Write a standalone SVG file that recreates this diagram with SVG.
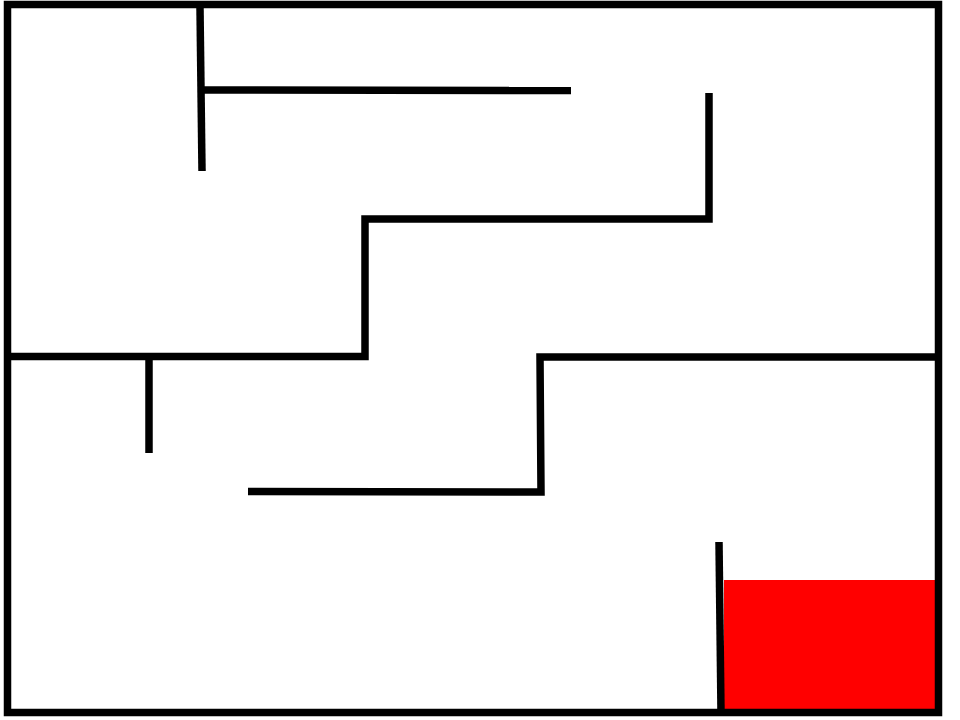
<svg xmlns="http://www.w3.org/2000/svg" width="960" height="720" viewBox="0 0 960 720">
<style>
.w{fill:none;stroke:#000;stroke-width:7.5;stroke-linecap:butt;stroke-linejoin:miter}
</style>
<rect width="960" height="720" fill="#fff"/>
<rect id="goal" x="724" y="580" width="212" height="130" fill="#ff0000"/>
<g id="walls">
<rect class="w" x="7.5" y="4.5" width="931" height="708"/>
<path class="w" d="M200 8 L202 171"/>
<path class="w" d="M202 90 L571 90.5"/>
<path class="w" d="M709 93 L709 219 L365 219 L365 356.5 L8 356.5"/>
<path class="w" d="M149 357 L149 453"/>
<path class="w" d="M938 357 L540 357 L541 492 L248 491.5"/>
<path class="w" d="M719 542 L721 712"/>
</g>
</svg>
